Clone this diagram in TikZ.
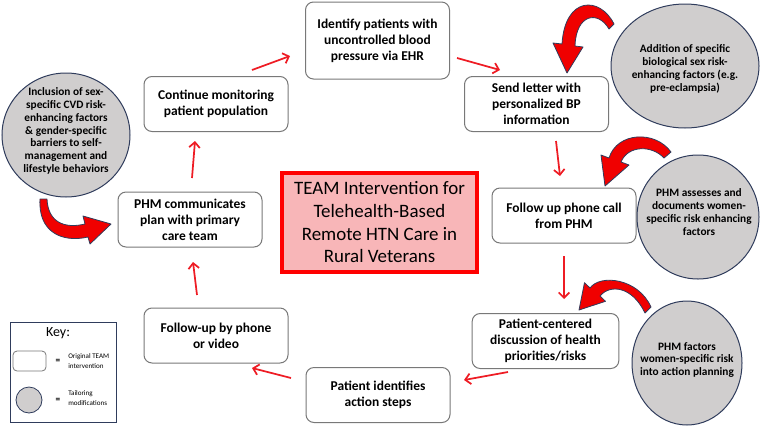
\documentclass[tikz,border=0pt]{standalone}
\usepackage{fontspec}
\setmainfont{Carlito}
\usetikzlibrary{shapes.geometric,arrows.meta}
\definecolor{conred}{RGB}{238,28,36}
\definecolor{blockred}{RGB}{240,0,0}
\definecolor{navyline}{RGB}{47,60,92}
\definecolor{circgray}{RGB}{208,206,206}
\definecolor{boxgray}{RGB}{120,120,120}
\definecolor{pinkfill}{RGB}{248,182,184}
\begin{document}
\begin{tikzpicture}[x=0.75pt,y=-0.75pt,
  stepbox/.style={draw=boxgray, line width=0.75pt, rounded corners=6pt, fill=white,
    align=center, font=\fontsize{10.1}{11.9}\selectfont\bfseries,
    minimum width=108pt, minimum height=41.25pt, inner sep=2pt},
  tailor/.style={ellipse, draw=navyline, line width=0.75pt, fill=circgray, inner sep=0pt},
  tailortext/.style={align=center, inner sep=0pt, font=\fontsize{8.5}{9.6}\selectfont\bfseries},
  conn/.style={draw=conred, line width=1.3pt, -{Straight Barb[length=4pt,width=8pt]}},
  blockarrow/.style={fill=blockred, draw=navyline, line width=0.6pt, line join=round}
]
\useasboundingbox (0,0) rectangle (760,429);

% process boxes
\node[stepbox, minimum height=57.75pt] (ident) at (377.5,40.5) {Identify patients with\\uncontrolled blood\\pressure via EHR};
\node[stepbox] (cont) at (216,104) {Continue monitoring\\patient population};
\node[stepbox] (letter) at (536.5,104) {Send letter with\\personalized BP\\information};
\node[stepbox] (phone) at (564,215.5) {Follow up phone call\\from PHM};
\node[stepbox, minimum width=110pt] (disc) at (545.5,341) {Patient-centered\\discussion of health\\priorities/risks};
\node[stepbox] (steps) at (378,395) {Patient identifies\\action steps};
\node[stepbox] (video) at (216,335.5) {Follow-up by phone\\or video};
\node[stepbox] (plan) at (190,219.5) {PHM communicates\\plan with primary\\care team};

% central box
\node[draw=red, line width=3pt, fill=pinkfill, minimum width=146pt, minimum height=74pt,
  align=center, font=\fontsize{14.2}{17}\selectfont] (center) at (379.5,222.5)
  {TEAM Intervention for\\Telehealth-Based\\Remote HTN Care in\\Rural Veterans};

% tailoring circles
\node[tailor, minimum width=111pt, minimum height=93pt] (tA) at (685,66) {};
\node[tailortext] (tAt) at (685,69)
  {Addition of specific\\biological sex risk-\\enhancing factors (e.g.\\pre-eclampsia)};
\node[tailor, minimum width=91.5pt, minimum height=93pt] (tB) at (698,217) {};
\node[tailortext] (tBt) at (699,212)
  {PHM assesses and\\documents women-\\specific risk enhancing\\factors};
\node[tailor, minimum width=82.5pt, minimum height=93pt] (tC) at (687,363) {};
\node[tailortext] (tCt) at (687,360)
  {PHM factors\\women-specific risk\\into action planning};
\node[tailor, minimum width=96pt, minimum height=93pt] (tD) at (66,135) {};
\node[tailortext] (tDt) at (66,131)
  {Inclusion of sex-\\specific CVD risk-\\enhancing factors\\\& gender-specific\\barriers to self-\\management and\\lifestyle behaviors};

% thin connectors
\coordinate (c1s) at (252,70);  \coordinate (c1e) at (290,56);
\coordinate (c2s) at (457,58);  \coordinate (c2e) at (500,70);
\coordinate (c3s) at (556,141); \coordinate (c3e) at (560,176);
\coordinate (c4s) at (564,256); \coordinate (c4e) at (564,299);
\coordinate (c5s) at (508,372); \coordinate (c5e) at (464,380);
\coordinate (c6s) at (291,378); \coordinate (c6e) at (252,368);
\coordinate (c7s) at (197,295); \coordinate (c7e) at (193,262);
\coordinate (c8s) at (192,178); \coordinate (c8e) at (195,141);
\draw[conn] (c1s) -- (c1e);
\draw[conn] (c2s) -- (c2e);
\draw[conn] (c3s) -- (c3e);
\draw[conn] (c4s) -- (c4e);
\draw[conn] (c5s) -- (c5e);
\draw[conn] (c6s) -- (c6e);
\draw[conn] (c7s) -- (c7e);
\draw[conn] (c8s) -- (c8e);

% curved block arrows
% D -> plan
\draw[blockarrow] (40,199) .. controls (38,232) and (62,243) .. (88,237)
  -- (90,244) -- (111,224) -- (83,216) -- (85,224)
  .. controls (64,229) and (48,222) .. (47,199) -- cycle;
% A -> letter
\draw[blockarrow] (614,24) .. controls (600,-4) and (565,-4) .. (562,44)
  -- (553,43) -- (567,73) -- (583,47) -- (575,46)
  .. controls (576,14) and (598,10) .. (609,29) -- cycle;
% B -> phone
\draw[blockarrow] (671,152) .. controls (655,130) and (617,132) .. (609,158)
  -- (601,155) -- (605,186) -- (629,165) -- (621,162)
  .. controls (628,145) and (652,145) .. (664,158) -- cycle;
% C -> discussion
\draw[blockarrow] (651,307) .. controls (638,278) and (600,274) .. (590,288)
  -- (584.5,282.7) -- (579,310) -- (605.5,301.3) -- (600,296)
  .. controls (610,284) and (632,286) .. (645,313) -- cycle;

% key
\node[draw=navyline, line width=0.75pt, minimum width=80pt, minimum height=75pt] (key) at (63.5,372.5) {};
\node[font=\fontsize{10.5}{12}\selectfont] (keyt) at (58,333) {Key:};
\node[draw=boxgray, line width=0.6pt, rounded corners=3pt, minimum width=24.75pt, minimum height=15pt] (keybox) at (29.5,361) {};
\node[font=\fontsize{7}{8}\selectfont\bfseries] (eq1) at (58,361) {=};
\node[anchor=west, align=left, inner sep=0pt, font=\fontsize{5.3}{7}\selectfont] (keyorig) at (68,361) {Original TEAM\\intervention};
\node[circle, draw=navyline, line width=0.6pt, fill=circgray, minimum size=19.5pt, inner sep=0pt] (keycirc) at (29,400) {};
\node[font=\fontsize{7}{8}\selectfont\bfseries] (eq2) at (58,400) {=};
\node[anchor=west, align=left, inner sep=0pt, font=\fontsize{5.3}{7}\selectfont] (keytail) at (68,398) {Tailoring\\modifications};
\end{tikzpicture}
\end{document}
